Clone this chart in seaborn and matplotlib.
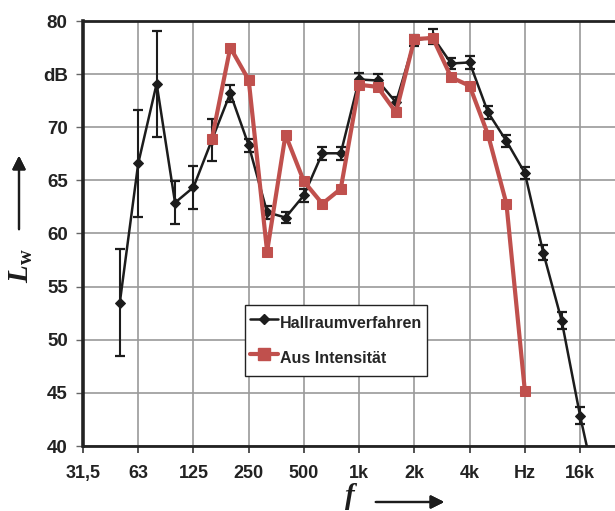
import matplotlib
matplotlib.use("Agg")
import matplotlib.pyplot as plt
from matplotlib.lines import Line2D
import seaborn as sns
import pandas as pd

# Third-octave band centre frequencies (Hz)
bands = [31.5, 40, 50, 63, 80, 100, 125, 160, 200, 250, 315, 400, 500, 630,
         800, 1000, 1250, 1600, 2000, 2500, 3150, 4000, 5000, 6300, 8000,
         10000, 12500, 16000, 20000]

# Reverberation-room method: 50 Hz ... 20 kHz
hall_bands = bands[2:]
hall_lw = [53.5, 66.6, 74.1, 62.9, 64.35, 68.8, 73.2, 68.3, 62.0, 61.5, 63.6,
           67.55, 67.55, 74.5, 74.4, 72.35, 78.15, 78.5, 76.0, 76.1, 71.4,
           68.7, 65.7, 58.2, 51.8, 42.85, 35.0]
hall_err = [5.0, 5.0, 5.0, 2.0, 2.0, 2.0, 0.8, 0.6, 0.6, 0.5, 0.6, 0.6, 0.6,
            0.6, 0.6, 0.5, 0.55, 0.7, 0.5, 0.6, 0.6, 0.6, 0.6, 0.7, 0.8, 0.8,
            0.8]

# Intensity method: 160 Hz ... 8 kHz
int_bands = bands[7:25]
int_lw = [68.9, 77.5, 74.45, 58.3, 69.3, 64.9, 62.8, 64.2, 74.0, 73.8, 71.4,
          78.3, 78.4, 74.7, 73.9, 69.3, 62.8, 45.2]

tick_pos = [0, 3, 6, 9, 12, 15, 18, 21, 24, 27]
tick_labels = ["31,5", "63", "125", "250", "500", "1k", "2k", "4k", "Hz", "16k"]
y_ticks = [40, 45, 50, 55, 60, 65, 70, 75, 80]
y_labels = ["40", "45", "50", "55", "60", "65", "70", "dB", "80"]

sns.set_theme(style="white")
plt.rcParams["font.family"] = ["Liberation Sans", "DejaVu Sans"]
plt.rcParams["mathtext.fontset"] = "custom"
plt.rcParams["mathtext.it"] = "Liberation Serif:italic:bold"
plt.rcParams["mathtext.rm"] = "Liberation Serif:bold"

pos = {f: i for i, f in enumerate(bands)}
hall = pd.DataFrame({"x": [pos[f] for f in hall_bands], "Lw": hall_lw, "err": hall_err})
inten = pd.DataFrame({"x": [pos[f] for f in int_bands], "Lw": int_lw})

BLACK = "#1c1c1c"
RED = "#c0504d"

fig = plt.figure(figsize=(6.15, 5.11), dpi=100)
px = 18.41 / 615.0
ax = fig.add_axes([83 / 615, 65 / 511, 30 * px, 425 / 511])

ax.errorbar(hall["x"], hall["Lw"], yerr=hall["err"], fmt="none",
            ecolor=BLACK, elinewidth=1.5, capsize=3.4, capthick=1.6, zorder=3)
sns.lineplot(data=hall, x="x", y="Lw", ax=ax, color=BLACK, lw=1.8,
             marker="D", markersize=5, markeredgecolor=BLACK, sort=False,
             zorder=4)
sns.lineplot(data=inten, x="x", y="Lw", ax=ax, color=RED, lw=3,
             marker="s", markersize=7.5, markeredgecolor=RED, sort=False,
             zorder=5)

ax.set_xlim(0, 30)
ax.set_ylim(40, 80)
ax.set_xticks(tick_pos)
ax.set_xticklabels(tick_labels, fontsize=13, fontweight="bold", color="#222222")
ax.set_yticks(y_ticks)
ax.set_yticklabels(y_labels, fontsize=13.5, fontweight="bold", color="#222222")
ax.set_xlabel("")
ax.set_ylabel("")
ax.grid(True, color="#9a9a9a", lw=1.2)
ax.set_axisbelow(True)
ax.tick_params(axis="x", length=5, width=1.2, color="#333333", pad=9,
               bottom=True)
ax.tick_params(axis="y", length=5, width=1.0, color="#666666", pad=6, left=True)

for side in ["left", "bottom", "top"]:
    ax.spines[side].set_visible(True)
    ax.spines[side].set_color("#222222")
ax.spines["left"].set_linewidth(2.6)
ax.spines["bottom"].set_linewidth(2.0)
ax.spines["top"].set_linewidth(2.0)
ax.spines["right"].set_visible(False)

handles = [
    Line2D([], [], color=BLACK, lw=1.8, marker="D", markersize=5),
    Line2D([], [], color=RED, lw=3, marker="s", markersize=8),
]
leg = fig.legend(handles, ["Hallraumverfahren", "Aus Intensität"],
                 loc="upper left", bbox_to_anchor=(245 / 615, 1 - 305 / 511),
                 bbox_transform=fig.transFigure, frameon=True, fancybox=False,
                 framealpha=1, edgecolor="#222222",
                 prop={"weight": "bold", "size": 11.5}, handlelength=1.75,
                 handleheight=2.1, handletextpad=0.12, labelspacing=0.6,
                 borderpad=0.3, borderaxespad=0)
leg.get_frame().set_linewidth(1.0)

# Axis titles with direction arrows
fig.text(21 / 615, 1 - 266 / 511, r"$L_\mathrm{w}$", rotation=90, fontsize=21,
         ha="center", va="center", color="#1c1c1c")
fig.text(351 / 615, 1 - 496 / 511, r"$f$", fontsize=21, ha="center",
         va="center", color="#1c1c1c")
fig.add_artist(plt.annotate("", xy=(19 / 615, 1 - 153 / 511),
                            xytext=(19 / 615, 1 - 232 / 511),
                            xycoords="figure fraction",
                            arrowprops=dict(arrowstyle="-|>", color="#1c1c1c",
                                            lw=1.6, mutation_scale=20)))
fig.add_artist(plt.annotate("", xy=(447 / 615, 1 - 502 / 511),
                            xytext=(373 / 615, 1 - 502 / 511),
                            xycoords="figure fraction",
                            arrowprops=dict(arrowstyle="-|>", color="#1c1c1c",
                                            lw=1.6, mutation_scale=20)))

fig.savefig("out.png", dpi=100)
